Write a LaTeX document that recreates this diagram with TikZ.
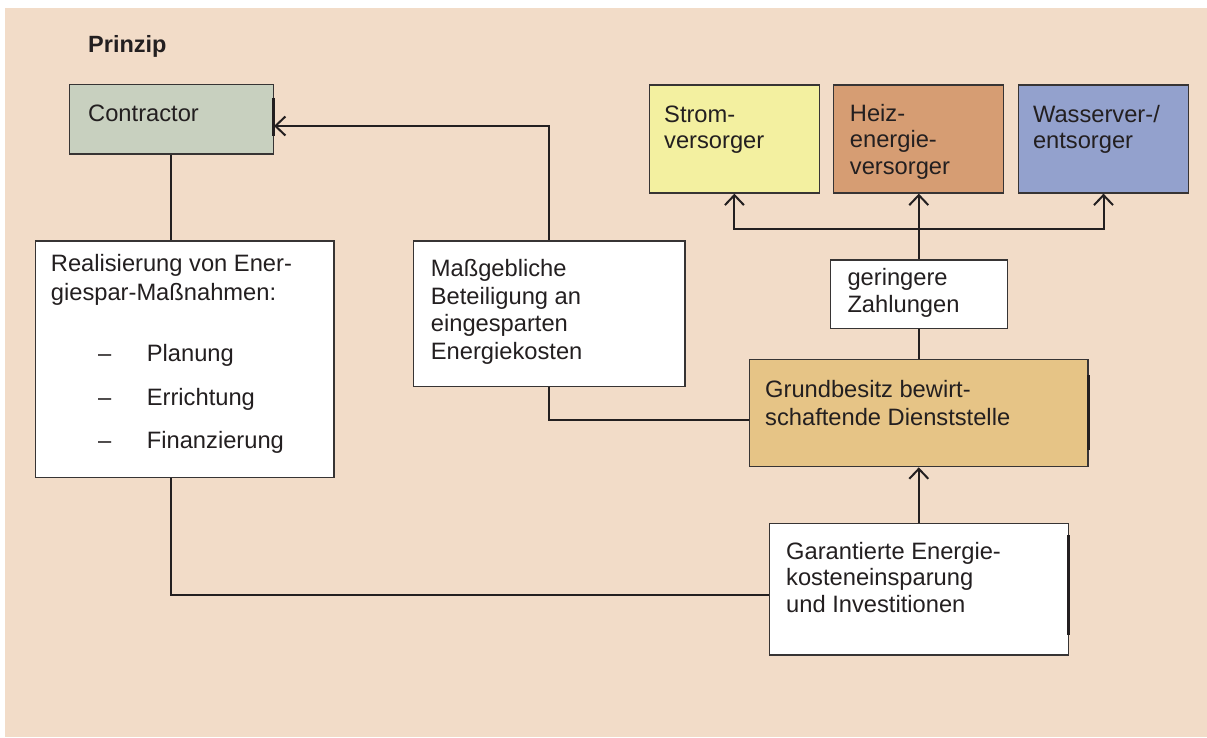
\documentclass[tikz,border=0pt]{standalone}
\usepackage{fontspec}
\setmainfont{Liberation Sans}
\usetikzlibrary{arrows.meta}
\definecolor{bg}{RGB}{242,220,200}
\definecolor{ink}{RGB}{35,31,32}
\definecolor{frame}{RGB}{55,52,52}
\definecolor{contrfill}{RGB}{200,208,191}
\definecolor{stromfill}{RGB}{243,240,160}
\definecolor{heizfill}{RGB}{214,157,115}
\definecolor{wasserfill}{RGB}{147,161,205}
\definecolor{grundfill}{RGB}{230,196,134}
\begin{document}
\begin{tikzpicture}[x=1pt,y=-1pt,
  box/.style={draw=frame, line width=1.3pt, rectangle, inner sep=0pt},
  txt/.style={anchor=base west, inner sep=0pt, align=left, text=ink,
    font=\fontsize{23.7}{27.2}\selectfont},
  conn/.style={draw=ink, line width=2pt},
  arr/.style={conn, -{Straight Barb[length=10pt,width=19pt]}},
  thick edge/.style={draw=ink, line width=3pt}
]
\useasboundingbox (0,0) rectangle (1207,738);
\fill[bg] (5,8) rectangle (1207,737);

% boxes
\node[box, fill=contrfill, minimum width=204pt, minimum height=69.7pt] (contr) at (171.3,119.2) {};
\node[box, fill=white, minimum width=298.3pt, minimum height=236.3pt] (real) at (184.9,359.2) {};
\node[box, fill=white, minimum width=271.7pt, minimum height=145.7pt] (mass) at (549.2,313.9) {};
\node[box, fill=stromfill, minimum width=170.3pt, minimum height=108pt] (strom) at (734.4,139) {};
\node[box, fill=heizfill, minimum width=170pt, minimum height=108pt] (heiz) at (918.8,139) {};
\node[box, fill=wasserfill, minimum width=170pt, minimum height=108pt] (wasser) at (1103.5,139) {};
\node[box, fill=white, minimum width=176.6pt, minimum height=68.3pt] (gering) at (919,294.2) {};
\node[box, fill=grundfill, minimum width=338.7pt, minimum height=107.4pt] (grund) at (918.7,413) {};
\node[box, fill=white, minimum width=299pt, minimum height=131.7pt] (garant) at (918.8,589.2) {};

% thicker edge fragments
\draw[thick edge] (contr.east |- 0,98) -- (contr.east |- 0,136);
\draw[thick edge] (grund.east |- 0,375) -- (grund.east |- 0,450);
\draw[thick edge] (garant.east |- 0,535) -- (garant.east |- 0,635);

% connectors
\draw[conn] (contr.south) -- (contr.south |- real.north);
\draw[conn] (contr.south |- real.south) |- ([yshift=-5.8pt]garant.west);
\draw[arr] (mass.north) |- ([yshift=-6.8pt]contr.east);
\draw[conn] (mass.south) |- ([yshift=-7pt]grund.west);
\draw[conn] (grund.north) -- (grund.north |- gering.south);
\coordinate (bar) at (918.8,229);
\draw[conn] (gering.north) -- (gering.north |- bar);
\draw[arr] (bar) -| (strom.south);
\draw[arr] (bar) -| (wasser.south);
\draw[arr] (bar) -- (heiz.south);
\draw[arr] (garant.north) -- (garant.north |- grund.south);

% texts (anchored at the baseline of their last line)
\node[txt, font=\fontsize{23.5}{27}\selectfont\bfseries] (ttitle) at (88,53) {Prinzip};
\node[txt] (tcontr) at (88,122) {Contractor};
\node[txt, font=\fontsize{23.7}{26.5}\selectfont] (tstrom) at (664,149) {Strom-\\versorger};
\node[txt, font=\fontsize{23.7}{26.3}\selectfont] (theiz) at (849.7,174.1) {Heiz-\\energie-\\versorger};
\node[txt, font=\fontsize{23.7}{26.5}\selectfont] (twasser) at (1032.8,149) {Wasserver-/\\entsorger};
\node[txt, font=\fontsize{23.7}{28.3}\selectfont] (treal) at (50.7,300) {Realisierung von Ener-\\giespar-Maßnahmen:};
\node[txt, font=\fontsize{23.7}{43.3}\selectfont] (tlist) at (98,448.3) {\makebox[48.7pt][l]{–}Planung\\\makebox[48.7pt][l]{–}Errichtung\\\makebox[48.7pt][l]{–}Finanzierung};
\node[txt, font=\fontsize{23.7}{27.5}\selectfont] (tmass) at (430.7,359.2) {Maßgebliche\\Beteiligung an\\eingesparten\\Energiekosten};
\node[txt] (tgering) at (847.3,312.9) {geringere\\Zahlungen};
\node[txt, font=\fontsize{23.7}{27.7}\selectfont] (tgrund) at (765,425) {Grundbesitz bewirt-\\schaftende Dienststelle};
\node[txt, font=\fontsize{23.7}{26.8}\selectfont] (tgarant) at (786,612.6) {Garantierte Energie-\\kosteneinsparung\\und Investitionen};
\end{tikzpicture}
\end{document}
